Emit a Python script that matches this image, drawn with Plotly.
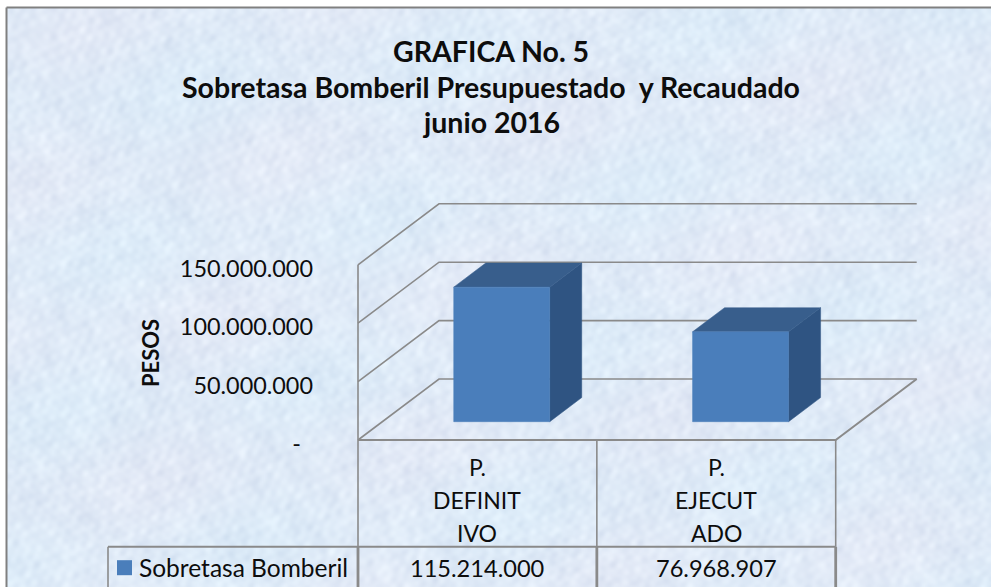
import base64
import struct
import zlib

import numpy as np
import plotly.graph_objects as go

CATEGORY_LINES = [["P.", "DEFINIT", "IVO"], ["P.", "EJECUT", "ADO"]]
SERIES_NAME = "Sobretasa Bomberil"
VALUES = [115214000, 76968907]
VALUE_LABELS = ["115.214.000", "76.968.907"]
TICK_VALUES = [0, 50000000, 100000000, 150000000]
TICK_LABELS = ["-\u00a0\u00a0", "50.000.000", "100.000.000", "150.000.000"]
TITLE_LINES = ["GRAFICA No. 5", "Sobretasa Bomberil Presupuestado  y Recaudado", "junio 2016"]
AXIS_TITLE = "PESOS"

# Oblique projection: depth (0..1) shifts a point right and up
PX_PER_CAT = 238.85
PX_PER_UNIT = 58.4 / 50e6
DEPTH_X = 81 / PX_PER_CAT
DEPTH_Y = 61 / PX_PER_UNIT
BAR_WIDTH = 0.402
BAR_Z0, BAR_Z1 = 0.30, 0.695
GRID = "#8a8a8a"
FONT = "Lato"
INK = "#0d0d0d"


def texture_uri(w=495, h=293):
    """Pale blue mottled paper backdrop (decoration only, carries no data)."""
    yy, xx = np.mgrid[0:h, 0:w].astype(float)
    waves = [(0.31, 0.17, 0.0), (-0.23, 0.37, 1.1), (0.53, -0.29, 2.3), (0.11, 0.61, 0.7), (-0.67, 0.19, 4.1),
             (0.83, 0.47, 3.3), (-0.41, -0.79, 5.2), (0.97, -0.13, 1.9), (0.07, 0.13, 0.4), (-0.09, 0.05, 2.8),
             (1.13, 0.71, 0.9), (-0.89, 1.03, 3.7), (0.61, 1.27, 2.1), (-1.21, -0.37, 5.9), (0.19, -0.11, 1.4)]
    warp = 2.4 * np.sin(0.031 * xx - 0.043 * yy) + 1.7 * np.sin(0.057 * xx + 0.029 * yy + 1.0)
    m = sum(np.sin(a * xx + b * yy + p + warp) for a, b, p in waves) / 3.9
    tint = np.sin(0.03 * xx + 0.05 * yy) * np.sin(0.02 * xx - 0.03 * yy + 1.0)
    r = 224 + 5 * m + 3 * tint
    g = 235 + 4.5 * m - 1 * tint
    b = 248 + 3 * m - 1 * tint
    img = np.clip(np.dstack([r, g, b]), 0, 255).astype(np.uint8)
    raw = b"".join(b"\x00" + img[i].tobytes() for i in range(h))

    def chunk(tag, data):
        return struct.pack(">I", len(data)) + tag + data + struct.pack(">I", zlib.crc32(tag + data))

    png = (b"\x89PNG\r\n\x1a\n" + chunk(b"IHDR", struct.pack(">IIBBBBB", w, h, 8, 2, 0, 0, 0))
           + chunk(b"IDAT", zlib.compress(raw, 9)) + chunk(b"IEND", b""))
    return "data:image/png;base64," + base64.b64encode(png).decode()


def proj(x, v, z):
    return x + DEPTH_X * z, v + DEPTH_Y * z


def poly(points, fill, name):
    xs, ys = zip(*points)
    return go.Scatter(x=list(xs) + [xs[0]], y=list(ys) + [ys[0]], mode="lines", fill="toself",
                      fillcolor=fill, line=dict(color=fill, width=0.5), hoverinfo="skip",
                      showlegend=False, name=name)


def line(points, width=1.6):
    xs, ys = zip(*points)
    return go.Scatter(x=list(xs), y=list(ys), mode="lines", line=dict(color=GRID, width=width),
                      hoverinfo="skip", showlegend=False)


n = len(VALUES)
fig = go.Figure()

# walls and floor
for t in TICK_VALUES:
    fig.add_trace(line([proj(0, t, 0), proj(0, t, 1), proj(n, t, 1)]))
fig.add_trace(line([proj(0, 0, 0), proj(0, TICK_VALUES[-1], 0)]))
fig.add_trace(line([proj(n, 0, 1), proj(n, 0, 0), proj(0, 0, 0)], 2))

# bars
for i, v in enumerate(VALUES):
    c = i + 0.5
    x0, x1 = c - BAR_WIDTH / 2, c + BAR_WIDTH / 2
    fig.add_trace(poly([proj(x1, 0, BAR_Z0), proj(x1, v, BAR_Z0), proj(x1, v, BAR_Z1), proj(x1, 0, BAR_Z1)], "#2f5482", "side"))
    fig.add_trace(poly([proj(x0, v, BAR_Z0), proj(x1, v, BAR_Z0), proj(x1, v, BAR_Z1), proj(x0, v, BAR_Z1)], "#385e8c", "top"))
    fig.add_trace(poly([proj(x0, 0, BAR_Z0), proj(x1, 0, BAR_Z0), proj(x1, v, BAR_Z0), proj(x0, v, BAR_Z0)], "#4a7ebb", SERIES_NAME))

# data table
PX = 1 / PX_PER_CAT
PY = 1 / PX_PER_UNIT
row1 = -106.7 * PY
row2 = -150 * PY
legend_left = -250 * PX
for i in range(n + 1):
    fig.add_trace(line([(i, 0), (i, row1)], 1.6))
    fig.add_trace(line([(i, row1), (i, row2)], 2.8))
fig.add_trace(line([(legend_left, row1), (n, row1)], 2))
fig.add_trace(line([(legend_left, row1), (legend_left, row2)], 1.6))

fig.add_trace(go.Scatter(x=[legend_left + 16.5 * PX], y=[row1 - 21 * PY], mode="markers",
                         marker=dict(symbol="square", size=15, color="#4a7ebb", line=dict(width=0)),
                         hoverinfo="skip", showlegend=False))

annotations = [dict(x=legend_left + 29 * PX, y=row1 - 21 * PY, text=SERIES_NAME, xanchor="left", yanchor="middle",
                    showarrow=False, font=dict(family=FONT, size=24.5, color=INK)),
               dict(x=150 / 991, y=1 - 353 / 587, xref="paper", yref="paper", text="<b>%s</b>" % AXIS_TITLE,
                    xanchor="center", yanchor="middle", textangle=-90, showarrow=False,
                    font=dict(family=FONT, size=22, color=INK))]
for i in range(n):
    for line_text, off in zip(CATEGORY_LINES[i], (-27, -60, -92.5)):
        annotations.append(dict(x=i + 0.5, y=off * PY, text=line_text, showarrow=False,
                                xanchor="center", yanchor="middle",
                                font=dict(family=FONT, size=23, color=INK)))
    annotations.append(dict(x=i + 0.5, y=row1 - 21 * PY, text=VALUE_LABELS[i], showarrow=False,
                            xanchor="center", yanchor="middle",
                            font=dict(family=FONT, size=23.6, color=INK)))
for line_text, ypx in zip(TITLE_LINES, (51, 87, 122)):
    annotations.append(dict(x=491 / 991, y=1 - ypx / 587, xref="paper", yref="paper", text="<b>%s</b>" % line_text,
                            xanchor="center", yanchor="middle", showarrow=False,
                            font=dict(family=FONT, size=28.5, color=INK)))

fig.update_layout(
    width=991, height=587, margin=dict(l=0, r=0, t=0, b=0),
    paper_bgcolor="#ffffff", plot_bgcolor="rgba(0,0,0,0)", showlegend=False,
    images=[dict(source=texture_uri(), xref="paper", yref="paper", x=7 / 991, y=1 - 8 / 587,
                 sizex=984 / 991, sizey=579 / 587, xanchor="left", yanchor="top", sizing="stretch", layer="below")],
    shapes=[dict(type="line", xref="paper", yref="paper", x0=6.5 / 991, x1=6.5 / 991, y0=0, y1=1 - 7.5 / 587,
                 line=dict(color="#808080", width=2), layer="below"),
            dict(type="line", xref="paper", yref="paper", x0=6.5 / 991, x1=1, y0=1 - 7.5 / 587, y1=1 - 7.5 / 587,
                 line=dict(color="#808080", width=2), layer="below")],
    xaxis=dict(range=[-358 * PX, (991 - 358) * PX], domain=[0, 1], visible=False, fixedrange=True),
    yaxis=dict(range=[-147 * PY, 440 * PY], anchor="free", position=358 / 991, tickvals=TICK_VALUES,
               ticktext=TICK_LABELS, showgrid=False, zeroline=False, showline=False, ticks="",
               ticklabelstandoff=45, ticklabelshift=4, tickfont=dict(family=FONT, size=23.4, color=INK),
               fixedrange=True),
    annotations=annotations,
)
fig.write_html("out.html", config=dict(displayModeBar=False),
               post_script="document.body.style.margin='0';document.documentElement.style.overflow='hidden';")
